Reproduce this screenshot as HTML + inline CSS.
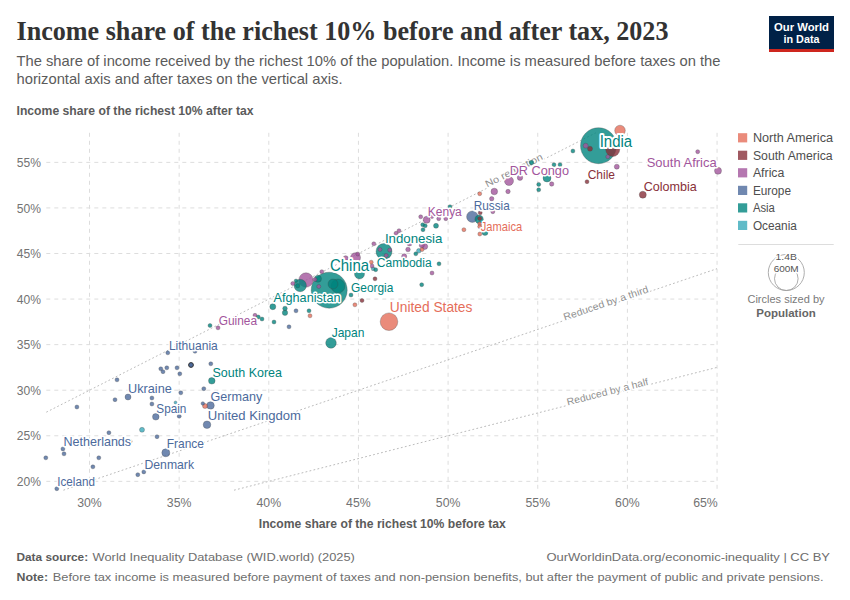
<!DOCTYPE html>
<html><head><meta charset="utf-8"><title>Income share of the richest 10% before and after tax, 2023</title>
<style>
html,body{margin:0;padding:0;background:#fff;}
body{width:850px;height:600px;overflow:hidden;}
svg{display:block;}
text{font-family:'Liberation Sans', Arial, sans-serif;}
.lbl{paint-order:stroke;stroke:#fff;stroke-width:3px;stroke-linejoin:round;} .big{stroke-width:4px;}
</style></head><body>
<svg width="850" height="600" viewBox="0 0 850 600">
<rect width="850" height="600" fill="#fff"/>

<text x="16.5" y="40.2" style="font-family:'Liberation Serif', 'Times New Roman', serif" font-weight="bold" font-size="27" fill="#333" textLength="652" lengthAdjust="spacingAndGlyphs">Income share of the richest 10% before and after tax, 2023</text>
<text x="16.5" y="66.3" font-size="14.5" fill="#5b5b5b" textLength="704" lengthAdjust="spacingAndGlyphs">The share of income received by the richest 10% of the population. Income is measured before taxes on the</text>
<text x="16.5" y="84.1" font-size="14.5" fill="#5b5b5b" textLength="326" lengthAdjust="spacingAndGlyphs">horizontal axis and after taxes on the vertical axis.</text>
<rect x="769" y="16" width="65" height="36" fill="#002147"/><rect x="769" y="49" width="65" height="3" fill="#ce261e"/>
<text x="801.5" y="30.7" font-size="11" font-weight="bold" fill="#fff" text-anchor="middle" textLength="55" lengthAdjust="spacingAndGlyphs">Our World</text>
<text x="801.5" y="42.5" font-size="11" font-weight="bold" fill="#fff" text-anchor="middle" textLength="36" lengthAdjust="spacingAndGlyphs">in Data</text>
<text x="16.5" y="115.1" font-size="12.5" font-weight="bold" fill="#5b5b5b" textLength="237" lengthAdjust="spacingAndGlyphs">Income share of the richest 10% after tax</text>
<g stroke="#dddddd" stroke-width="1" stroke-dasharray="4 4"><line x1="46.3" x2="717.05" y1="481.35" y2="481.35"/><line x1="46.3" x2="717.05" y1="435.78" y2="435.78"/><line x1="46.3" x2="717.05" y1="390.21" y2="390.21"/><line x1="46.3" x2="717.05" y1="344.64" y2="344.64"/><line x1="46.3" x2="717.05" y1="299.07" y2="299.07"/><line x1="46.3" x2="717.05" y1="253.5" y2="253.5"/><line x1="46.3" x2="717.05" y1="207.93" y2="207.93"/><line x1="46.3" x2="717.05" y1="162.36" y2="162.36"/><line x1="89.5" x2="89.5" y1="132.8" y2="489.0"/><line x1="179.15" x2="179.15" y1="132.8" y2="489.0"/><line x1="268.8" x2="268.8" y1="132.8" y2="489.0"/><line x1="358.45" x2="358.45" y1="132.8" y2="489.0"/><line x1="448.1" x2="448.1" y1="132.8" y2="489.0"/><line x1="537.75" x2="537.75" y1="132.8" y2="489.0"/><line x1="627.4" x2="627.4" y1="132.8" y2="489.0"/><line x1="717.05" x2="717.05" y1="132.8" y2="489.0"/></g>
<text x="16.8" y="486.0" font-size="13.2" fill="#737373" textLength="24.2" lengthAdjust="spacingAndGlyphs">20%</text>
<text x="16.8" y="440.4" font-size="13.2" fill="#737373" textLength="24.2" lengthAdjust="spacingAndGlyphs">25%</text>
<text x="16.8" y="394.8" font-size="13.2" fill="#737373" textLength="24.2" lengthAdjust="spacingAndGlyphs">30%</text>
<text x="16.8" y="349.2" font-size="13.2" fill="#737373" textLength="24.2" lengthAdjust="spacingAndGlyphs">35%</text>
<text x="16.8" y="303.7" font-size="13.2" fill="#737373" textLength="24.2" lengthAdjust="spacingAndGlyphs">40%</text>
<text x="16.8" y="258.1" font-size="13.2" fill="#737373" textLength="24.2" lengthAdjust="spacingAndGlyphs">45%</text>
<text x="16.8" y="212.5" font-size="13.2" fill="#737373" textLength="24.2" lengthAdjust="spacingAndGlyphs">50%</text>
<text x="16.8" y="167.0" font-size="13.2" fill="#737373" textLength="24.2" lengthAdjust="spacingAndGlyphs">55%</text>
<text x="77.2" y="507.4" font-size="13.2" fill="#737373" textLength="24.6" lengthAdjust="spacingAndGlyphs">30%</text>
<text x="166.8" y="507.4" font-size="13.2" fill="#737373" textLength="24.6" lengthAdjust="spacingAndGlyphs">35%</text>
<text x="256.5" y="507.4" font-size="13.2" fill="#737373" textLength="24.6" lengthAdjust="spacingAndGlyphs">40%</text>
<text x="346.1" y="507.4" font-size="13.2" fill="#737373" textLength="24.6" lengthAdjust="spacingAndGlyphs">45%</text>
<text x="435.8" y="507.4" font-size="13.2" fill="#737373" textLength="24.6" lengthAdjust="spacingAndGlyphs">50%</text>
<text x="525.5" y="507.4" font-size="13.2" fill="#737373" textLength="24.6" lengthAdjust="spacingAndGlyphs">55%</text>
<text x="615.1" y="507.4" font-size="13.2" fill="#737373" textLength="24.6" lengthAdjust="spacingAndGlyphs">60%</text>
<text x="693.2" y="507.4" font-size="13.2" fill="#737373" textLength="24.6" lengthAdjust="spacingAndGlyphs">65%</text>
<text x="258.8" y="527.9" font-size="12.5" font-weight="bold" fill="#5b5b5b" textLength="247" lengthAdjust="spacingAndGlyphs">Income share of the richest 10% before tax</text>
<g stroke="#aaa" stroke-width="0.8" stroke-dasharray="1.8 2.3"><line x1="46.3" y1="412.2" x2="595.9" y2="132.8"/><line x1="63.4" y1="490.2" x2="717.0" y2="268.7"/><line x1="234.0" y1="490.2" x2="717.0" y2="367.4"/></g>
<g><circle cx="329.2" cy="290.2" r="18" fill="#00847E" fill-opacity="0.8" stroke="#444" stroke-opacity="0.5" stroke-width="0.6"/><circle cx="598.5" cy="145.7" r="18" fill="#00847E" fill-opacity="0.8" stroke="#444" stroke-opacity="0.5" stroke-width="0.6"/><circle cx="389" cy="321.7" r="8.8" fill="#E56E5A" fill-opacity="0.8" stroke="#444" stroke-opacity="0.5" stroke-width="0.6"/><circle cx="384" cy="251.5" r="8" fill="#00847E" fill-opacity="0.8" stroke="#444" stroke-opacity="0.5" stroke-width="0.6"/><circle cx="306" cy="280" r="7.2" fill="#A2559C" fill-opacity="0.8" stroke="#444" stroke-opacity="0.5" stroke-width="0.6"/><circle cx="612.7" cy="149.5" r="7" fill="#883039" fill-opacity="0.8" stroke="#444" stroke-opacity="0.5" stroke-width="0.6"/><circle cx="338" cy="286" r="7" fill="#00847E" fill-opacity="0.8" stroke="#444" stroke-opacity="0.5" stroke-width="0.6"/><circle cx="300.2" cy="285.5" r="6.2" fill="#00847E" fill-opacity="0.8" stroke="#444" stroke-opacity="0.5" stroke-width="0.6"/><circle cx="472.3" cy="216.7" r="5.7" fill="#4C6A9C" fill-opacity="0.8" stroke="#444" stroke-opacity="0.5" stroke-width="0.6"/><circle cx="620" cy="130.5" r="5.3" fill="#E56E5A" fill-opacity="0.8" stroke="#444" stroke-opacity="0.5" stroke-width="0.6"/><circle cx="331" cy="342.9" r="5.3" fill="#00847E" fill-opacity="0.8" stroke="#444" stroke-opacity="0.5" stroke-width="0.6"/><circle cx="355.5" cy="257.7" r="5" fill="#A2559C" fill-opacity="0.8" stroke="#444" stroke-opacity="0.5" stroke-width="0.6"/><circle cx="333" cy="284" r="5" fill="#00847E" fill-opacity="0.8" stroke="#444" stroke-opacity="0.5" stroke-width="0.6"/><circle cx="359.5" cy="274" r="5" fill="#00847E" fill-opacity="0.8" stroke="#444" stroke-opacity="0.5" stroke-width="0.6"/><circle cx="509" cy="181" r="4.5" fill="#A2559C" fill-opacity="0.8" stroke="#444" stroke-opacity="0.5" stroke-width="0.6"/><circle cx="479.1" cy="219.3" r="4.2" fill="#00847E" fill-opacity="0.8" stroke="#444" stroke-opacity="0.5" stroke-width="0.6"/><circle cx="165.8" cy="452.8" r="4" fill="#4C6A9C" fill-opacity="0.8" stroke="#444" stroke-opacity="0.5" stroke-width="0.6"/><circle cx="547" cy="178" r="4" fill="#00847E" fill-opacity="0.8" stroke="#444" stroke-opacity="0.5" stroke-width="0.6"/><circle cx="210.5" cy="405.5" r="3.8" fill="#4C6A9C" fill-opacity="0.8" stroke="#444" stroke-opacity="0.5" stroke-width="0.6"/><circle cx="207" cy="424.7" r="3.8" fill="#4C6A9C" fill-opacity="0.8" stroke="#444" stroke-opacity="0.5" stroke-width="0.6"/><circle cx="642.8" cy="194.7" r="3.5" fill="#883039" fill-opacity="0.8" stroke="#444" stroke-opacity="0.5" stroke-width="0.6"/><circle cx="426.7" cy="219.8" r="3.5" fill="#A2559C" fill-opacity="0.8" stroke="#444" stroke-opacity="0.5" stroke-width="0.6"/><circle cx="718" cy="170.8" r="3.5" fill="#A2559C" fill-opacity="0.8" stroke="#444" stroke-opacity="0.5" stroke-width="0.6"/><circle cx="318" cy="278.8" r="3.5" fill="#00847E" fill-opacity="0.8" stroke="#444" stroke-opacity="0.5" stroke-width="0.6"/><circle cx="155.8" cy="416.8" r="3.3" fill="#4C6A9C" fill-opacity="0.8" stroke="#444" stroke-opacity="0.5" stroke-width="0.6"/><circle cx="494.3" cy="191.5" r="3.3" fill="#A2559C" fill-opacity="0.8" stroke="#444" stroke-opacity="0.5" stroke-width="0.6"/><circle cx="211.8" cy="380.8" r="3.3" fill="#00847E" fill-opacity="0.8" stroke="#444" stroke-opacity="0.5" stroke-width="0.6"/><circle cx="128" cy="397" r="3" fill="#4C6A9C" fill-opacity="0.8" stroke="#444" stroke-opacity="0.5" stroke-width="0.6"/><circle cx="424.7" cy="246.5" r="3" fill="#A2559C" fill-opacity="0.8" stroke="#444" stroke-opacity="0.5" stroke-width="0.6"/><circle cx="272.8" cy="306.7" r="3" fill="#00847E" fill-opacity="0.8" stroke="#444" stroke-opacity="0.5" stroke-width="0.6"/><circle cx="485" cy="232.4" r="3" fill="#00847E" fill-opacity="0.8" stroke="#444" stroke-opacity="0.5" stroke-width="0.6"/><circle cx="520" cy="177.7" r="2.7" fill="#A2559C" fill-opacity="0.8" stroke="#444" stroke-opacity="0.5" stroke-width="0.6"/><circle cx="285" cy="312.8" r="2.7" fill="#00847E" fill-opacity="0.8" stroke="#444" stroke-opacity="0.5" stroke-width="0.6"/><circle cx="142" cy="429.8" r="2.5" fill="#38AABA" fill-opacity="0.8" stroke="#444" stroke-opacity="0.5" stroke-width="0.6"/><circle cx="205" cy="406" r="2.5" fill="#E56E5A" fill-opacity="0.8" stroke="#444" stroke-opacity="0.5" stroke-width="0.6"/><circle cx="590" cy="148.7" r="2.5" fill="#883039" fill-opacity="0.8" stroke="#444" stroke-opacity="0.5" stroke-width="0.6"/><circle cx="345.7" cy="258.2" r="2.5" fill="#A2559C" fill-opacity="0.8" stroke="#444" stroke-opacity="0.5" stroke-width="0.6"/><circle cx="404.2" cy="256.2" r="2.5" fill="#A2559C" fill-opacity="0.8" stroke="#444" stroke-opacity="0.5" stroke-width="0.6"/><circle cx="409.5" cy="243.5" r="2.5" fill="#A2559C" fill-opacity="0.8" stroke="#444" stroke-opacity="0.5" stroke-width="0.6"/><circle cx="421.8" cy="245.3" r="2.5" fill="#A2559C" fill-opacity="0.8" stroke="#444" stroke-opacity="0.5" stroke-width="0.6"/><circle cx="585.7" cy="145.7" r="2.5" fill="#A2559C" fill-opacity="0.8" stroke="#444" stroke-opacity="0.5" stroke-width="0.6"/><circle cx="616.8" cy="166.7" r="2.5" fill="#A2559C" fill-opacity="0.8" stroke="#444" stroke-opacity="0.5" stroke-width="0.6"/><circle cx="436" cy="225.8" r="2.5" fill="#00847E" fill-opacity="0.8" stroke="#444" stroke-opacity="0.5" stroke-width="0.6"/><circle cx="418.8" cy="250.8" r="2.3" fill="#38AABA" fill-opacity="0.8" stroke="#444" stroke-opacity="0.5" stroke-width="0.6"/><circle cx="408" cy="249.5" r="2.3" fill="#A2559C" fill-opacity="0.8" stroke="#444" stroke-opacity="0.5" stroke-width="0.6"/><circle cx="285" cy="308.5" r="2.3" fill="#00847E" fill-opacity="0.8" stroke="#444" stroke-opacity="0.5" stroke-width="0.6"/><circle cx="491.7" cy="198.7" r="2.2" fill="#A2559C" fill-opacity="0.8" stroke="#444" stroke-opacity="0.5" stroke-width="0.6"/><circle cx="508" cy="191.5" r="2.2" fill="#A2559C" fill-opacity="0.8" stroke="#444" stroke-opacity="0.5" stroke-width="0.6"/><circle cx="551.7" cy="184" r="2.2" fill="#A2559C" fill-opacity="0.8" stroke="#444" stroke-opacity="0.5" stroke-width="0.6"/><circle cx="297.7" cy="285.8" r="2.2" fill="#00847E" fill-opacity="0.8" stroke="#444" stroke-opacity="0.5" stroke-width="0.6"/><circle cx="76.9" cy="407" r="2" fill="#4C6A9C" fill-opacity="0.8" stroke="#444" stroke-opacity="0.5" stroke-width="0.6"/><circle cx="117" cy="379.8" r="2" fill="#4C6A9C" fill-opacity="0.8" stroke="#444" stroke-opacity="0.5" stroke-width="0.6"/><circle cx="115" cy="399.7" r="2" fill="#4C6A9C" fill-opacity="0.8" stroke="#444" stroke-opacity="0.5" stroke-width="0.6"/><circle cx="151.9" cy="398" r="2" fill="#4C6A9C" fill-opacity="0.8" stroke="#444" stroke-opacity="0.5" stroke-width="0.6"/><circle cx="151.9" cy="404" r="2" fill="#4C6A9C" fill-opacity="0.8" stroke="#444" stroke-opacity="0.5" stroke-width="0.6"/><circle cx="179.2" cy="416.2" r="2" fill="#4C6A9C" fill-opacity="0.8" stroke="#444" stroke-opacity="0.5" stroke-width="0.6"/><circle cx="108.9" cy="432.7" r="2" fill="#4C6A9C" fill-opacity="0.8" stroke="#444" stroke-opacity="0.5" stroke-width="0.6"/><circle cx="157" cy="436.7" r="2" fill="#4C6A9C" fill-opacity="0.8" stroke="#444" stroke-opacity="0.5" stroke-width="0.6"/><circle cx="62.9" cy="448.9" r="2" fill="#4C6A9C" fill-opacity="0.8" stroke="#444" stroke-opacity="0.5" stroke-width="0.6"/><circle cx="64" cy="453.8" r="2" fill="#4C6A9C" fill-opacity="0.8" stroke="#444" stroke-opacity="0.5" stroke-width="0.6"/><circle cx="45.8" cy="457.8" r="2" fill="#4C6A9C" fill-opacity="0.8" stroke="#444" stroke-opacity="0.5" stroke-width="0.6"/><circle cx="98.8" cy="457.8" r="2" fill="#4C6A9C" fill-opacity="0.8" stroke="#444" stroke-opacity="0.5" stroke-width="0.6"/><circle cx="92.9" cy="466.8" r="2" fill="#4C6A9C" fill-opacity="0.8" stroke="#444" stroke-opacity="0.5" stroke-width="0.6"/><circle cx="143.8" cy="471.9" r="2" fill="#4C6A9C" fill-opacity="0.8" stroke="#444" stroke-opacity="0.5" stroke-width="0.6"/><circle cx="137.8" cy="474.7" r="2" fill="#4C6A9C" fill-opacity="0.8" stroke="#444" stroke-opacity="0.5" stroke-width="0.6"/><circle cx="56.8" cy="488.7" r="2" fill="#4C6A9C" fill-opacity="0.8" stroke="#444" stroke-opacity="0.5" stroke-width="0.6"/><circle cx="167.8" cy="352.8" r="2" fill="#4C6A9C" fill-opacity="0.8" stroke="#444" stroke-opacity="0.5" stroke-width="0.6"/><circle cx="195" cy="351.3" r="2" fill="#4C6A9C" fill-opacity="0.8" stroke="#444" stroke-opacity="0.5" stroke-width="0.6"/><circle cx="210.8" cy="363.8" r="2" fill="#4C6A9C" fill-opacity="0.8" stroke="#444" stroke-opacity="0.5" stroke-width="0.6"/><circle cx="160.8" cy="368.8" r="2" fill="#4C6A9C" fill-opacity="0.8" stroke="#444" stroke-opacity="0.5" stroke-width="0.6"/><circle cx="163" cy="371.7" r="2" fill="#4C6A9C" fill-opacity="0.8" stroke="#444" stroke-opacity="0.5" stroke-width="0.6"/><circle cx="166.8" cy="367.8" r="2" fill="#4C6A9C" fill-opacity="0.8" stroke="#444" stroke-opacity="0.5" stroke-width="0.6"/><circle cx="177" cy="367.8" r="2" fill="#4C6A9C" fill-opacity="0.8" stroke="#444" stroke-opacity="0.5" stroke-width="0.6"/><circle cx="179.8" cy="373.8" r="2" fill="#4C6A9C" fill-opacity="0.8" stroke="#444" stroke-opacity="0.5" stroke-width="0.6"/><circle cx="203.8" cy="388.7" r="2" fill="#4C6A9C" fill-opacity="0.8" stroke="#444" stroke-opacity="0.5" stroke-width="0.6"/><circle cx="180.8" cy="392.8" r="2" fill="#4C6A9C" fill-opacity="0.8" stroke="#444" stroke-opacity="0.5" stroke-width="0.6"/><circle cx="296" cy="310.8" r="2" fill="#4C6A9C" fill-opacity="0.8" stroke="#444" stroke-opacity="0.5" stroke-width="0.6"/><circle cx="289" cy="326.8" r="2" fill="#4C6A9C" fill-opacity="0.8" stroke="#444" stroke-opacity="0.5" stroke-width="0.6"/><circle cx="373" cy="268.7" r="2" fill="#38AABA" fill-opacity="0.8" stroke="#444" stroke-opacity="0.5" stroke-width="0.6"/><circle cx="310" cy="315.8" r="2" fill="#E56E5A" fill-opacity="0.8" stroke="#444" stroke-opacity="0.5" stroke-width="0.6"/><circle cx="354.9" cy="304.8" r="2" fill="#E56E5A" fill-opacity="0.8" stroke="#444" stroke-opacity="0.5" stroke-width="0.6"/><circle cx="371.2" cy="262.2" r="2" fill="#E56E5A" fill-opacity="0.8" stroke="#444" stroke-opacity="0.5" stroke-width="0.6"/><circle cx="422" cy="249.6" r="2" fill="#E56E5A" fill-opacity="0.8" stroke="#444" stroke-opacity="0.5" stroke-width="0.6"/><circle cx="463.9" cy="229.7" r="2" fill="#E56E5A" fill-opacity="0.8" stroke="#444" stroke-opacity="0.5" stroke-width="0.6"/><circle cx="479.7" cy="193.7" r="2" fill="#E56E5A" fill-opacity="0.8" stroke="#444" stroke-opacity="0.5" stroke-width="0.6"/><circle cx="479.7" cy="223.7" r="2" fill="#E56E5A" fill-opacity="0.8" stroke="#444" stroke-opacity="0.5" stroke-width="0.6"/><circle cx="479.7" cy="226.6" r="2" fill="#E56E5A" fill-opacity="0.8" stroke="#444" stroke-opacity="0.5" stroke-width="0.6"/><circle cx="479.8" cy="234" r="2" fill="#E56E5A" fill-opacity="0.8" stroke="#444" stroke-opacity="0.5" stroke-width="0.6"/><circle cx="362" cy="300.5" r="2" fill="#883039" fill-opacity="0.8" stroke="#444" stroke-opacity="0.5" stroke-width="0.6"/><circle cx="375" cy="278.8" r="2" fill="#883039" fill-opacity="0.8" stroke="#444" stroke-opacity="0.5" stroke-width="0.6"/><circle cx="479.7" cy="218.5" r="2" fill="#883039" fill-opacity="0.8" stroke="#444" stroke-opacity="0.5" stroke-width="0.6"/><circle cx="480.2" cy="212.8" r="2" fill="#883039" fill-opacity="0.8" stroke="#444" stroke-opacity="0.5" stroke-width="0.6"/><circle cx="587" cy="181.7" r="2" fill="#883039" fill-opacity="0.8" stroke="#444" stroke-opacity="0.5" stroke-width="0.6"/><circle cx="218" cy="327.8" r="2" fill="#A2559C" fill-opacity="0.8" stroke="#444" stroke-opacity="0.5" stroke-width="0.6"/><circle cx="255" cy="315.3" r="2" fill="#A2559C" fill-opacity="0.8" stroke="#444" stroke-opacity="0.5" stroke-width="0.6"/><circle cx="292.8" cy="283.5" r="2" fill="#A2559C" fill-opacity="0.8" stroke="#444" stroke-opacity="0.5" stroke-width="0.6"/><circle cx="315" cy="279.5" r="2" fill="#A2559C" fill-opacity="0.8" stroke="#444" stroke-opacity="0.5" stroke-width="0.6"/><circle cx="321.8" cy="271.7" r="2" fill="#A2559C" fill-opacity="0.8" stroke="#444" stroke-opacity="0.5" stroke-width="0.6"/><circle cx="318.8" cy="286.5" r="2" fill="#A2559C" fill-opacity="0.8" stroke="#444" stroke-opacity="0.5" stroke-width="0.6"/><circle cx="357.7" cy="254" r="2" fill="#A2559C" fill-opacity="0.8" stroke="#444" stroke-opacity="0.5" stroke-width="0.6"/><circle cx="372" cy="266" r="2" fill="#A2559C" fill-opacity="0.8" stroke="#444" stroke-opacity="0.5" stroke-width="0.6"/><circle cx="373.8" cy="243.8" r="2" fill="#A2559C" fill-opacity="0.8" stroke="#444" stroke-opacity="0.5" stroke-width="0.6"/><circle cx="380" cy="249.5" r="2" fill="#A2559C" fill-opacity="0.8" stroke="#444" stroke-opacity="0.5" stroke-width="0.6"/><circle cx="389.7" cy="250" r="2" fill="#A2559C" fill-opacity="0.8" stroke="#444" stroke-opacity="0.5" stroke-width="0.6"/><circle cx="386.2" cy="255.5" r="2" fill="#A2559C" fill-opacity="0.8" stroke="#444" stroke-opacity="0.5" stroke-width="0.6"/><circle cx="396" cy="233.3" r="2" fill="#A2559C" fill-opacity="0.8" stroke="#444" stroke-opacity="0.5" stroke-width="0.6"/><circle cx="399" cy="230.7" r="2" fill="#A2559C" fill-opacity="0.8" stroke="#444" stroke-opacity="0.5" stroke-width="0.6"/><circle cx="420.7" cy="216.8" r="2" fill="#A2559C" fill-opacity="0.8" stroke="#444" stroke-opacity="0.5" stroke-width="0.6"/><circle cx="432" cy="216.5" r="2" fill="#A2559C" fill-opacity="0.8" stroke="#444" stroke-opacity="0.5" stroke-width="0.6"/><circle cx="438.7" cy="218.7" r="2" fill="#A2559C" fill-opacity="0.8" stroke="#444" stroke-opacity="0.5" stroke-width="0.6"/><circle cx="445.8" cy="218.7" r="2" fill="#A2559C" fill-opacity="0.8" stroke="#444" stroke-opacity="0.5" stroke-width="0.6"/><circle cx="432" cy="273" r="2" fill="#A2559C" fill-opacity="0.8" stroke="#444" stroke-opacity="0.5" stroke-width="0.6"/><circle cx="492.8" cy="211.7" r="2" fill="#A2559C" fill-opacity="0.8" stroke="#444" stroke-opacity="0.5" stroke-width="0.6"/><circle cx="607.8" cy="156.7" r="2" fill="#A2559C" fill-opacity="0.8" stroke="#444" stroke-opacity="0.5" stroke-width="0.6"/><circle cx="697.7" cy="151.7" r="2" fill="#A2559C" fill-opacity="0.8" stroke="#444" stroke-opacity="0.5" stroke-width="0.6"/><circle cx="210" cy="325.5" r="2" fill="#00847E" fill-opacity="0.8" stroke="#444" stroke-opacity="0.5" stroke-width="0.6"/><circle cx="258.3" cy="317" r="2" fill="#00847E" fill-opacity="0.8" stroke="#444" stroke-opacity="0.5" stroke-width="0.6"/><circle cx="262" cy="319" r="2" fill="#00847E" fill-opacity="0.8" stroke="#444" stroke-opacity="0.5" stroke-width="0.6"/><circle cx="309" cy="310.8" r="2" fill="#00847E" fill-opacity="0.8" stroke="#444" stroke-opacity="0.5" stroke-width="0.6"/><circle cx="274" cy="322" r="2" fill="#00847E" fill-opacity="0.8" stroke="#444" stroke-opacity="0.5" stroke-width="0.6"/><circle cx="351" cy="295" r="2" fill="#00847E" fill-opacity="0.8" stroke="#444" stroke-opacity="0.5" stroke-width="0.6"/><circle cx="375.7" cy="269.7" r="2" fill="#00847E" fill-opacity="0.8" stroke="#444" stroke-opacity="0.5" stroke-width="0.6"/><circle cx="415.8" cy="253.8" r="2" fill="#00847E" fill-opacity="0.8" stroke="#444" stroke-opacity="0.5" stroke-width="0.6"/><circle cx="422.7" cy="224.7" r="2" fill="#00847E" fill-opacity="0.8" stroke="#444" stroke-opacity="0.5" stroke-width="0.6"/><circle cx="425.2" cy="225.8" r="2" fill="#00847E" fill-opacity="0.8" stroke="#444" stroke-opacity="0.5" stroke-width="0.6"/><circle cx="423" cy="229.7" r="2" fill="#00847E" fill-opacity="0.8" stroke="#444" stroke-opacity="0.5" stroke-width="0.6"/><circle cx="439" cy="263.8" r="2" fill="#00847E" fill-opacity="0.8" stroke="#444" stroke-opacity="0.5" stroke-width="0.6"/><circle cx="421.7" cy="284.7" r="2" fill="#00847E" fill-opacity="0.8" stroke="#444" stroke-opacity="0.5" stroke-width="0.6"/><circle cx="450" cy="206.7" r="2" fill="#00847E" fill-opacity="0.8" stroke="#444" stroke-opacity="0.5" stroke-width="0.6"/><circle cx="538.7" cy="184.4" r="2" fill="#00847E" fill-opacity="0.8" stroke="#444" stroke-opacity="0.5" stroke-width="0.6"/><circle cx="538.7" cy="189.8" r="2" fill="#00847E" fill-opacity="0.8" stroke="#444" stroke-opacity="0.5" stroke-width="0.6"/><circle cx="554" cy="164.7" r="2" fill="#00847E" fill-opacity="0.8" stroke="#444" stroke-opacity="0.5" stroke-width="0.6"/><circle cx="560" cy="164.7" r="2" fill="#00847E" fill-opacity="0.8" stroke="#444" stroke-opacity="0.5" stroke-width="0.6"/><circle cx="572.9" cy="151" r="2" fill="#00847E" fill-opacity="0.8" stroke="#444" stroke-opacity="0.5" stroke-width="0.6"/><circle cx="130.3" cy="441.4" r="1.8" fill="#4C6A9C" fill-opacity="0.8" stroke="#444" stroke-opacity="0.5" stroke-width="0.6"/><circle cx="202.8" cy="403.5" r="1.8" fill="#4C6A9C" fill-opacity="0.8" stroke="#444" stroke-opacity="0.5" stroke-width="0.6"/><circle cx="296" cy="280.8" r="1.8" fill="#00847E" fill-opacity="0.8" stroke="#444" stroke-opacity="0.5" stroke-width="0.6"/><circle cx="175.5" cy="402.5" r="1.5" fill="#38AABA" fill-opacity="0.8" stroke="#444" stroke-opacity="0.5" stroke-width="0.6"/></g>
<text class="lbl" transform="translate(487.3,187.6) rotate(-26.94)" font-size="9.7" fill="#8f8f8f" textLength="63" lengthAdjust="spacingAndGlyphs">No reduction</text>
<text class="lbl" transform="translate(564.8,320.6) rotate(-18.72)" font-size="10" fill="#8f8f8f" textLength="89" lengthAdjust="spacingAndGlyphs">Reduced by a third</text>
<text class="lbl" transform="translate(567.8,405.4) rotate(-14.26)" font-size="10" fill="#8f8f8f" textLength="83.5" lengthAdjust="spacingAndGlyphs">Reduced by a half</text>
<circle cx="531.5" cy="162.6" r="2.3" fill="#00847E" fill-opacity="0.8" stroke="#444" stroke-opacity="0.5" stroke-width="0.6"/>
<circle cx="191" cy="365" r="2.4" fill="#4C6A9C" stroke="#333" stroke-width="1"/>
<text class="lbl" x="63.5" y="445.5" font-size="12.4" fill="#4C6A9C" textLength="67.6" lengthAdjust="spacingAndGlyphs">Netherlands</text>
<text class="lbl" x="57.3" y="486.1" font-size="12.07" fill="#4C6A9C" textLength="37.6" lengthAdjust="spacingAndGlyphs">Iceland</text>
<text class="lbl" x="144.5" y="468.9" font-size="12.29" fill="#4C6A9C" textLength="49.5" lengthAdjust="spacingAndGlyphs">Denmark</text>
<text class="lbl" x="166.7" y="448.2" font-size="12.99" fill="#4C6A9C" textLength="37.3" lengthAdjust="spacingAndGlyphs">France</text>
<text class="lbl" x="168.9" y="349.5" font-size="12.2" fill="#4C6A9C" textLength="48.9" lengthAdjust="spacingAndGlyphs">Lithuania</text>
<text class="lbl" x="212.5" y="376.6" font-size="12.86" fill="#00847E" textLength="69.5" lengthAdjust="spacingAndGlyphs">South Korea</text>
<text class="lbl" x="128.1" y="393.1" font-size="12.73" fill="#4C6A9C" textLength="43.7" lengthAdjust="spacingAndGlyphs">Ukraine</text>
<text class="lbl" x="210.6" y="400.6" font-size="13.1" fill="#4C6A9C" textLength="51.7" lengthAdjust="spacingAndGlyphs">Germany</text>
<text class="lbl" x="156.3" y="412.9" font-size="12.83" fill="#4C6A9C" textLength="30.1" lengthAdjust="spacingAndGlyphs">Spain</text>
<text class="lbl" x="207.8" y="419.6" font-size="12.99" fill="#4C6A9C" textLength="93.2" lengthAdjust="spacingAndGlyphs">United Kingdom</text>
<text class="lbl" x="218.7" y="325.1" font-size="12.45" fill="#A2559C" textLength="38.3" lengthAdjust="spacingAndGlyphs">Guinea</text>
<text class="lbl" x="273.5" y="302.1" font-size="12.78" fill="#00847E" textLength="67.0" lengthAdjust="spacingAndGlyphs">Afghanistan</text>
<text class="lbl" x="331.7" y="336.8" font-size="13.3" fill="#00847E" textLength="32.7" lengthAdjust="spacingAndGlyphs">Japan</text>
<text class="lbl" x="389.8" y="311.9" font-size="14.0" fill="#E56E5A" textLength="82.6" lengthAdjust="spacingAndGlyphs">United States</text>
<text class="lbl" x="351" y="291.8" font-size="12.23" fill="#00847E" textLength="42.4" lengthAdjust="spacingAndGlyphs">Georgia</text>
<text class="lbl big" x="330" y="270.8" font-size="15.9" fill="#00847E" textLength="39.1" lengthAdjust="spacingAndGlyphs">China</text>
<text class="lbl" x="376.8" y="266.9" font-size="12.5" fill="#00847E" textLength="54.9" lengthAdjust="spacingAndGlyphs">Cambodia</text>
<text class="lbl" x="384.9" y="242.8" font-size="13.5" fill="#00847E" textLength="57.5" lengthAdjust="spacingAndGlyphs">Indonesia</text>
<text class="lbl" x="427.8" y="215.7" font-size="12.89" fill="#A2559C" textLength="34.0" lengthAdjust="spacingAndGlyphs">Kenya</text>
<text class="lbl" x="473.7" y="210.1" font-size="13.3" fill="#4C6A9C" textLength="36.0" lengthAdjust="spacingAndGlyphs">Russia</text>
<text class="lbl" x="480.8" y="231.1" font-size="12.2" fill="#E56E5A" textLength="41.4" lengthAdjust="spacingAndGlyphs">Jamaica</text>
<text class="lbl" x="509.7" y="174.8" font-size="13.1" fill="#A2559C" textLength="59.3" lengthAdjust="spacingAndGlyphs">DR Congo</text>
<text class="lbl big" x="599.7" y="146.9" font-size="16.9" fill="#00847E" textLength="32.5" lengthAdjust="spacingAndGlyphs">India</text>
<text class="lbl" x="587.7" y="178.9" font-size="12.53" fill="#883039" textLength="27.3" lengthAdjust="spacingAndGlyphs">Chile</text>
<text class="lbl" x="646.7" y="166.6" font-size="12.93" fill="#A2559C" textLength="70.0" lengthAdjust="spacingAndGlyphs">South Africa</text>
<text class="lbl" x="643.7" y="190.6" font-size="12.87" fill="#883039" textLength="53.1" lengthAdjust="spacingAndGlyphs">Colombia</text>
<rect x="738" y="133.2" width="9.2" height="9.2" fill="#E56E5A" fill-opacity="0.8"/>
<text x="752.9" y="142.1" font-size="12" fill="#4e4e4e" textLength="80.1" lengthAdjust="spacingAndGlyphs">North America</text>
<rect x="738" y="150.7" width="9.2" height="9.2" fill="#883039" fill-opacity="0.8"/>
<text x="752.9" y="159.6" font-size="12" fill="#4e4e4e" textLength="79.7" lengthAdjust="spacingAndGlyphs">South America</text>
<rect x="738" y="168.2" width="9.2" height="9.2" fill="#A2559C" fill-opacity="0.8"/>
<text x="752.9" y="177.1" font-size="12" fill="#4e4e4e" textLength="31.5" lengthAdjust="spacingAndGlyphs">Africa</text>
<rect x="738" y="185.8" width="9.2" height="9.2" fill="#4C6A9C" fill-opacity="0.8"/>
<text x="752.9" y="194.7" font-size="12" fill="#4e4e4e" textLength="38.1" lengthAdjust="spacingAndGlyphs">Europe</text>
<rect x="738" y="203.3" width="9.2" height="9.2" fill="#00847E" fill-opacity="0.8"/>
<text x="752.9" y="212.2" font-size="12" fill="#4e4e4e" textLength="22.0" lengthAdjust="spacingAndGlyphs">Asia</text>
<rect x="738" y="220.8" width="9.2" height="9.2" fill="#38AABA" fill-opacity="0.8"/>
<text x="752.9" y="229.7" font-size="12" fill="#4e4e4e" textLength="44.0" lengthAdjust="spacingAndGlyphs">Oceania</text>
<line x1="738.3" x2="833.7" y1="244.5" y2="244.5" stroke="#ddd" stroke-width="1"/>
<circle cx="786.3" cy="272.5" r="18" fill="none" stroke="#999" stroke-width="0.8"/>
<circle cx="786.3" cy="278.7" r="11.8" fill="none" stroke="#999" stroke-width="0.8"/>
<text class="lbl" x="775.5" y="259.8" font-size="9.4" fill="#555" textLength="21.3" lengthAdjust="spacingAndGlyphs">1.4B</text>
<text class="lbl" x="773.7" y="271.5" font-size="9.4" fill="#555" textLength="25" lengthAdjust="spacingAndGlyphs">600M</text>
<text x="786" y="303.3" font-size="11" fill="#7a7a7a" text-anchor="middle">Circles sized by</text>
<text x="786" y="316.8" font-size="11.5" font-weight="bold" fill="#666" text-anchor="middle">Population</text>
<text x="16.5" y="560.8" font-size="11.8" font-weight="bold" fill="#5b5b5b" textLength="71.6" lengthAdjust="spacingAndGlyphs">Data source:</text>
<text x="92.6" y="560.8" font-size="11.8" fill="#6e6e6e" textLength="262.3" lengthAdjust="spacingAndGlyphs">World Inequality Database (WID.world) (2025)</text>
<text x="546.5" y="560.8" font-size="11.8" fill="#6e6e6e" textLength="283.5" lengthAdjust="spacingAndGlyphs">OurWorldinData.org/economic-inequality | CC BY</text>
<text x="16.5" y="580.5" font-size="11.8" font-weight="bold" fill="#5b5b5b" textLength="31.6" lengthAdjust="spacingAndGlyphs">Note:</text>
<text x="52.8" y="580.5" font-size="11.8" fill="#6e6e6e" textLength="770.7" lengthAdjust="spacingAndGlyphs">Before tax income is measured before payment of taxes and non-pension benefits, but after the payment of public and private pensions.</text>
</svg></body></html>
